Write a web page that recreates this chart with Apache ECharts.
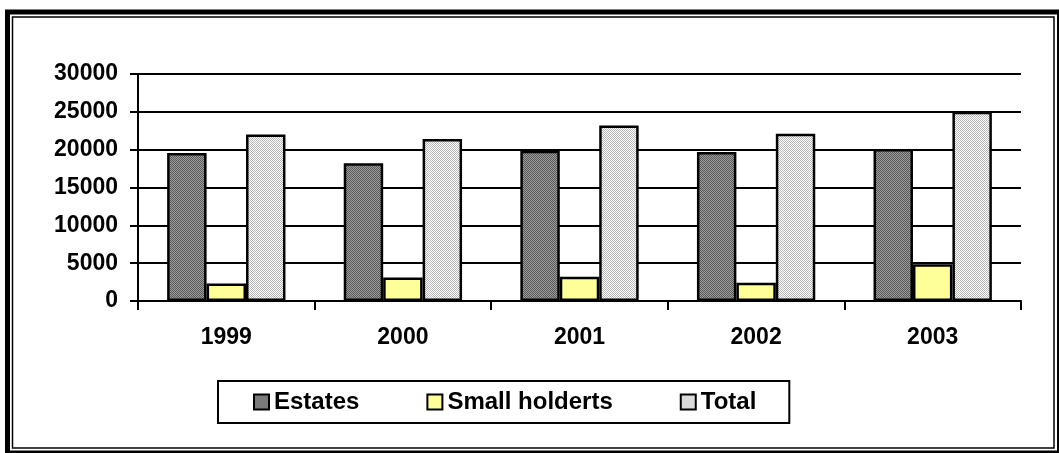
<!DOCTYPE html>
<html>
<head>
<meta charset="utf-8">
<script src="https://cdn.jsdelivr.net/npm/echarts@6/dist/echarts.min.js"></script>
<style>
html,body{margin:0;padding:0;background:#fff;}
#chart{width:1059px;height:453px;}
</style>
</head>
<body>
<div id="chart"></div>
<script>
// ---- data ----
const categories = ['1999', '2000', '2001', '2002', '2003'];
const estates = [19550, 18200, 19850, 19700, 20100];
const smallHolders = [2300, 3100, 3200, 2400, 4850];
const total = [22000, 21400, 23200, 22100, 25000];
const seriesNames = ['Estates', 'Small holderts', 'Total'];

function makePattern(c1, c2) {
  const cv = document.createElement('canvas');
  cv.width = 4; cv.height = 4;
  const ctx = cv.getContext('2d');
  for (let y = 0; y < 4; y++) {
    for (let x = 0; x < 4; x++) {
      ctx.fillStyle = ((x + y) % 2 === 0) ? c1 : c2;
      ctx.fillRect(x, y, 1, 1);
    }
  }
  return { image: cv, repeat: 'repeat' };
}
const estatesFill = makePattern('#5a5a5a', '#9c9c9c');
const smallFill = '#FFFF99';
const totalFill = makePattern('#b8b8b8', '#ffffff');

const FONT = '"Liberation Sans", Arial, sans-serif';
const chart = echarts.init(document.getElementById('chart'), null, { renderer: 'canvas' });

const barStyle = (fill) => ({ color: fill, borderColor: '#000', borderWidth: 2.5 });

chart.setOption({
  animation: false,
  backgroundColor: '#fff',
  grid: { left: 138, right: 38, top: 74, bottom: 152, containLabel: false },
  graphic: [
    { type: 'rect', shape: { x: 7.5, y: 12, width: 1052, height: 441 },
      style: { fill: 'none', stroke: '#000', lineWidth: 5 }, silent: true, z: 100 },
    { type: 'rect', shape: { x: 12.5, y: 17, width: 1041.5, height: 431 },
      style: { fill: 'none', stroke: '#000', lineWidth: 1.5 }, silent: true, z: 100 }
  ],
  legend: {
    data: seriesNames,
    left: 218,
    top: 381,
    orient: 'horizontal',
    padding: [9, 33, 9, 35],
    itemGap: 67,
    itemWidth: 15,
    itemHeight: 15,
    icon: 'rect',
    borderColor: '#000',
    borderWidth: 2,
    itemStyle: { borderColor: '#000', borderWidth: 2 },
    textStyle: { fontFamily: FONT, fontWeight: 'bold', fontSize: 24, color: '#000', lineHeight: 24, padding: [0, 0, 0, 0] }
  },
  xAxis: {
    type: 'category',
    data: categories,
    boundaryGap: true,
    axisLine: { show: true, lineStyle: { color: '#000', width: 2 } },
    axisTick: { show: true, length: 9, inside: false, lineStyle: { color: '#000', width: 2 } },
    axisLabel: { margin: 25, fontFamily: FONT, fontWeight: 'bold', fontSize: 23, color: '#000' },
    splitLine: { show: false }
  },
  yAxis: {
    type: 'value',
    min: 0,
    max: 30000,
    interval: 5000,
    axisLine: { show: true, lineStyle: { color: '#000', width: 2 } },
    axisTick: { show: true, length: 8, inside: false, lineStyle: { color: '#000', width: 2 } },
    axisLabel: { margin: 20, fontFamily: FONT, fontWeight: 'bold', fontSize: 23, color: '#000',
      formatter: (v) => String(v) },
    splitLine: { show: true, lineStyle: { color: '#000', width: 2 } }
  },
  series: [
    { name: seriesNames[0], type: 'bar', data: estates, barGap: '0%', barCategoryGap: '33%', itemStyle: barStyle(estatesFill) },
    { name: seriesNames[1], type: 'bar', data: smallHolders, barGap: '0%', barCategoryGap: '33%', itemStyle: barStyle(smallFill) },
    { name: seriesNames[2], type: 'bar', data: total, barGap: '0%', barCategoryGap: '33%', itemStyle: barStyle(totalFill) }
  ]
});
</script>
</body>
</html>
